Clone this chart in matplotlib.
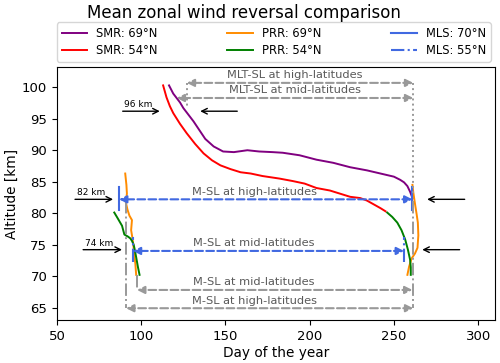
import matplotlib
matplotlib.use('Agg')
import matplotlib.pyplot as plt
import numpy as np

# SMR 69N (purple)
smr69_day = [116.5, 119, 123, 125, 131, 138, 143, 148.6, 155, 163, 170, 178, 184, 194, 204, 214, 224, 234, 243.6, 250, 253.7, 256, 258, 259.6, 261]
smr69_alt = [100.3, 99.0, 97.6, 96.7, 94.6, 91.8, 90.6, 89.8, 89.7, 90.0, 89.8, 89.7, 89.6, 89.2, 88.5, 88.0, 87.3, 86.8, 86.2, 85.8, 85.3, 84.9, 84.3, 83.4, 82.4]

# SMR 54N (red)
smr54_day = [113, 115, 117, 119, 123, 127, 132, 137, 142, 147, 153, 159, 165, 172, 182, 190, 197, 204, 212, 218, 224, 230, 234, 238, 242, 245]
smr54_alt = [100.3, 98.4, 97.0, 95.9, 94.2, 92.7, 91.0, 89.5, 88.4, 87.6, 87.0, 86.5, 86.3, 85.9, 85.5, 85.1, 84.7, 84.0, 83.6, 83.1, 82.6, 82.4, 82.0, 81.4, 80.8, 80.3]

# PRR 69N (orange), two branches
prr69a_day = [90.5, 91.2, 91.5, 90.8, 91.8, 93.0, 94.5, 94.0, 94.8, 95.5, 96.0, 96.5, 97.0]
prr69a_alt = [86.3, 84.5, 83.1, 81.8, 80.6, 79.6, 78.9, 77.3, 76.0, 74.5, 73.0, 72.0, 70.2]
prr69b_day = [261, 261.5, 262.5, 263.5, 264.2, 264.5, 264.0, 262.5, 260.5, 259.0, 258.0]
prr69b_alt = [84.5, 83.3, 81.5, 79.8, 78.5, 76.5, 74.5, 73.6, 72.8, 71.5, 70.2]

# PRR 54N (green), two branches
prr54a_day = [84, 86, 88.6, 90, 92, 93.5, 94.5, 95.5, 96.0, 97.0, 98.0, 99.0]
prr54a_alt = [80.1, 79.2, 78.0, 76.6, 76.3, 76.0, 75.6, 75.0, 74.4, 73.0, 71.5, 70.2]
prr54b_day = [246, 249, 252, 254.5, 256.7, 258.3, 259.6, 260.0, 260.0]
prr54b_alt = [80.1, 79.4, 78.5, 77.3, 75.8, 74.2, 72.6, 71.4, 70.2]

# MLS reversal markers (day, altitude range)
mls70_day = [86.8, 261.0]
mls70_alt = [80.5, 84.2]
mls55_day = [95.0, 256.0]
mls55_alt = [72.2, 76.2]

# Shift layers: (start day, end day, altitude, label)
msl_blue = [(86.8, 261.0, 82.2, 'M-SL at high-latitudes'),
            (95.0, 256.0, 74.0, 'M-SL at mid-latitudes')]
msl_gray = [(97.5, 261.0, 67.8, 'M-SL at mid-latitudes'),
            (91.0, 261.5, 64.9, 'M-SL at high-latitudes')]
mlt_gray = [(127.0, 261.5, 100.7, 'MLT-SL at high-latitudes'),
            (121.0, 261.5, 98.3, 'MLT-SL at mid-latitudes')]

# reference altitudes marked with black arrows
ref_alt = [96.2, 82.2, 74.2]
ref_text = ['96 km', '82 km', '74 km']
left_from = [89, 60.7, 65.5]
left_to = [111, 83.3, 88.6]
right_from = [157, 292, 289]
right_to = [135, 269.7, 266.8]

fig = plt.figure(figsize=(5, 3.63), dpi=100)
ax = fig.add_axes([0.114, 0.118, 0.876, 0.697])

blue = '#4169e1'
gray = '0.6'
tcol = '0.35'

ax.plot(smr69_day, smr69_alt, color='purple', lw=1.4, label='SMR: 69°N')
ax.plot(smr54_day, smr54_alt, color='red', lw=1.4, label='SMR: 54°N')
ax.plot(prr69a_day, prr69a_alt, color='darkorange', lw=1.4, label='PRR: 69°N')
ax.plot(prr69b_day, prr69b_alt, color='darkorange', lw=1.4)
ax.plot(prr54a_day, prr54a_alt, color='green', lw=1.4, label='PRR: 54°N')
ax.plot(prr54b_day, prr54b_alt, color='green', lw=1.4)

for i, d in enumerate(mls70_day):
    ax.plot([d, d], mls70_alt, color=blue, lw=1.5, ls='-',
            label='MLS: 70°N' if i == 0 else None)
for i, d in enumerate(mls55_day):
    ax.plot([d, d], mls55_alt, color=blue, lw=1.5, ls='-.',
            label='MLS: 55°N' if i == 0 else None)

# gray vertical guide lines
ax.plot([91.0, 91.0], [82.0, 64.9], color=gray, lw=1.4, ls='-.')
ax.plot([261.5, 261.5], [82.0, 64.9], color=gray, lw=1.4, ls='-.')
ax.plot([97.5, 97.5], [70.2, 67.8], color=gray, lw=1.4, ls='-.')
ax.plot([127.0, 127.0], [100.7, 96.9], color=gray, lw=1.4, ls=':')
ax.plot([261.5, 261.5], [100.7, 83.0], color=gray, lw=1.4, ls=':')


def shift_arrow(d0, d1, alt, txt, col, xt):
    ax.annotate('', xy=(d0, alt), xytext=(d1, alt),
                arrowprops=dict(arrowstyle='<|-|>', color=col, lw=1.5, ls='--',
                                shrinkA=0, shrinkB=0, mutation_scale=11))
    ax.text(xt, alt + 0.4, txt, color=tcol, fontsize=8.2, ha='center', va='bottom')


for d0, d1, alt, txt in msl_blue:
    shift_arrow(d0, d1, alt, txt, blue, 167)
for d0, d1, alt, txt in msl_gray:
    shift_arrow(d0, d1, alt, txt, gray, 167)
for d0, d1, alt, txt in mlt_gray:
    shift_arrow(d0, d1, alt, txt, gray, 191)

for i in range(len(ref_alt)):
    ax.annotate('', xy=(left_to[i], ref_alt[i]), xytext=(left_from[i], ref_alt[i]),
                arrowprops=dict(arrowstyle='->', color='black', lw=1.0,
                                shrinkA=0, shrinkB=0))
    ax.annotate('', xy=(right_to[i], ref_alt[i]), xytext=(right_from[i], ref_alt[i]),
                arrowprops=dict(arrowstyle='->', color='black', lw=1.0,
                                shrinkA=0, shrinkB=0))
    ax.text(left_from[i] + 1, ref_alt[i] + 0.3, ref_text[i], fontsize=6.5,
            ha='left', va='bottom')

ax.set_xlim(50, 310)
ax.set_ylim(63, 103.2)
ax.set_xticks([50, 100, 150, 200, 250, 300])
ax.set_yticks([65, 70, 75, 80, 85, 90, 95, 100])
ax.tick_params(labelsize=9.5)
ax.set_xlabel('Day of the year', fontsize=9.8, labelpad=2)
ax.set_ylabel('Altitude [km]', fontsize=9.8, labelpad=2)

ax.legend(loc='lower left', bbox_to_anchor=(0, 1.022, 0.99, 0.1), mode='expand',
          ncol=3, fontsize=8.3, handlelength=2.2, labelspacing=0.35,
          borderaxespad=0, frameon=True)
fig.text(0.488, 0.965, 'Mean zonal wind reversal comparison', fontsize=12,
         ha='center', va='center')

fig.savefig('out.png', dpi=100)
